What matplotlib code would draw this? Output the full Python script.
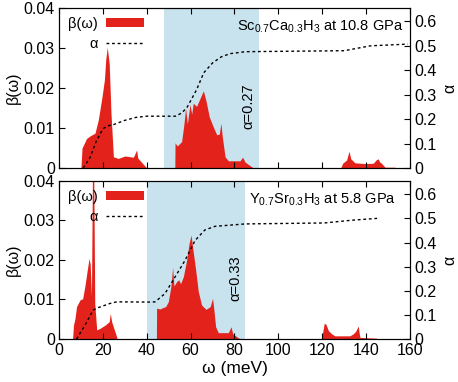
import matplotlib
matplotlib.use('Agg')
import matplotlib.pyplot as plt
import numpy as np

plt.rcParams['font.family'] = ['Liberation Sans', 'DejaVu Sans']
plt.rcParams['font.size'] = 11.5
plt.rcParams['mathtext.fontset'] = 'custom'
plt.rcParams['mathtext.rm'] = 'Liberation Sans'

# Sc0.7Ca0.3H3 at 10.8 GPa
w_top = [10.0, 10.5, 12.6, 14.1, 16.4, 17.9, 19.5, 20.7, 21.3, 22.0, 22.9, 23.7, 24.8, 27.0, 30.1, 33.9, 35.4, 35.9, 40.0,
         52.8, 52.9, 53.9, 55.9, 57.0, 57.7, 58.5, 59.7, 60.5, 61.2, 62.7, 64.3, 65.8, 67.0, 68.5, 70.3, 71.9, 73.1,
         73.8, 74.4, 75.7, 77.2, 82.5, 83.7, 84.8, 88.6,
         128.4, 129.3, 131.1, 132.2, 133.0, 134.9, 139.5, 143.3, 144.5, 145.5, 146.2, 147.0, 148.6, 153.0, 153.5]
beta_top = [0, 0.005, 0.0074, 0.008, 0.0087, 0.012, 0.0174, 0.022, 0.027, 0.0302, 0.026, 0.0137, 0.0028, 0.0024, 0.003, 0.0027, 0.0045, 0.0025, 0,
            0, 0.0063, 0.0055, 0.0066, 0.0112, 0.0149, 0.011, 0.0158, 0.0135, 0.0162, 0.0154, 0.0174, 0.0193, 0.0168, 0.0128, 0.0103, 0.0083, 0.0085,
            0.0112, 0.008, 0.0028, 0.0018, 0.0018, 0.0027, 0.0015, 0,
            0, 0.0012, 0.002, 0.0042, 0.0023, 0.0013, 0.0011, 0.0012, 0.002, 0.0023, 0.0015, 0.0012, 0.0002, 0.0002, 0]
aw_top = [11, 14, 17, 20, 22, 25, 30, 35, 40, 53, 56, 58.5, 62.7, 66, 70, 74, 78, 85, 130, 136, 142, 159]
alpha_top = [0, 0.04, 0.11, 0.16, 0.172, 0.178, 0.195, 0.207, 0.212, 0.212, 0.225, 0.25, 0.32, 0.39, 0.43, 0.455, 0.468, 0.476,
             0.48, 0.49, 0.5, 0.507]

# Y0.7Sr0.3H3 at 5.8 GPa
w_bot = [6.2, 6.6, 7.3, 8.0, 9.6, 10.8, 11.9, 12.9, 13.7, 14.2, 14.8, 15.3, 15.8, 16.3, 17.2, 18.7, 21.0, 22.9, 23.4, 24.0, 26.6,
         44.4, 44.5, 46.0, 47.6, 48.6, 49.8, 51.0, 51.8, 52.4, 53.6, 54.6, 55.4, 56.7, 58.2, 59.3, 60.2, 61.2, 62.3, 63.5,
         65.0, 67.0, 68.9, 70.0, 70.6, 71.4, 72.6, 77.2, 78.4, 79.2, 81.7, 83.0,
         119.7, 120.9, 121.7, 122.8, 124.3, 125.8, 132.6, 134.1, 135.3, 136.4, 136.9, 137.2, 144.8, 145.0]
beta_bot = [0, 0.0035, 0.0052, 0.0082, 0.0099, 0.0102, 0.0137, 0.0175, 0.0204, 0.019, 0.011, 0.045, 0.045, 0.009, 0.0023, 0.0027, 0.0035, 0.0044, 0.0065, 0.0044, 0,
            0, 0.0078, 0.0076, 0.008, 0.0082, 0.0094, 0.0132, 0.0181, 0.0134, 0.0145, 0.015, 0.014, 0.0158, 0.020, 0.0242, 0.0263, 0.022, 0.0175, 0.012,
            0.0086, 0.0075, 0.0082, 0.0103, 0.0074, 0.0031, 0.0016, 0.0016, 0.0031, 0.0013, 0.0003, 0,
            0, 0.004, 0.0037, 0.0021, 0.0013, 0.0008, 0.0008, 0.0013, 0.002, 0.0033, 0.0013, 0.0004, 0.0002, 0]
aw_bot = [8, 11.9, 15.6, 17.9, 23.2, 26.3, 41.5, 43.8, 48.3, 52.9, 57.4, 62.0, 66.5, 71.1, 84.8, 121, 133, 145]
alpha_bot = [0, 0.058, 0.12, 0.13, 0.147, 0.154, 0.153, 0.154, 0.188, 0.257, 0.325, 0.408, 0.452, 0.467, 0.477, 0.481, 0.492, 0.50]

panels = [
    dict(w=w_top, b=beta_top, aw=aw_top, a=alpha_top, span=(48, 91),
         title='Sc$_{0.7}$Ca$_{0.3}$H$_3$ at 10.8 GPa', tx=156.8, lam='α=0.27', lx=86.1),
    dict(w=w_bot, b=beta_bot, aw=aw_bot, a=alpha_bot, span=(40, 85),
         title='Y$_{0.7}$Sr$_{0.3}$H$_3$ at 5.8 GPa', tx=153.5, lam='α=0.33', lx=80.5),
]

red = '#e3231b'
shade = '#c8e2ee'

fig = plt.figure(figsize=(4.58, 3.82), dpi=100)
boxes = [[0.1288, 0.5602, 0.7664, 0.419], [0.1288, 0.1126, 0.7664, 0.4136]]

for i, (p, box) in enumerate(zip(panels, boxes)):
    ax = fig.add_axes(box)
    ax2 = ax.twinx()

    # shading and beta on the left axes, alpha curve on the twin (drawn on top)
    ax.axvspan(*p['span'], color=shade, lw=0, zorder=0)
    ax.fill_between(p['w'], 0, p['b'], color=red, lw=0, label='β(ω)', zorder=1)
    ax.plot([], [], color='black', lw=1, ls=(0, (2, 2)), label='α')
    ax2.plot(p['aw'], p['a'], color='black', lw=1, ls=(0, (2, 2)))

    ax.set_xlim(0, 160)
    ax.set_ylim(0, 0.04)
    ax2.set_ylim(0, 0.655)
    ax.set_xticks(np.arange(0, 161, 20))
    ax.set_yticks([0, 0.01, 0.02, 0.03, 0.04])
    ax.set_yticklabels(['0', '0.01', '0.02', '0.03', '0.04'])
    ax2.set_yticks([0, 0.1, 0.2, 0.3, 0.4, 0.5, 0.6])
    ax2.set_yticklabels(['0', '0.1', '0.2', '0.3', '0.4', '0.5', '0.6'])
    ax.tick_params(direction='in', top=True, length=4, pad=3)
    ax2.tick_params(direction='in', length=4, pad=3)
    ax.set_ylabel('β(ω)', labelpad=2)
    ax2.set_ylabel('α', labelpad=4)
    if i == 0:
        ax.tick_params(labelbottom=False)
    else:
        ax.set_xlabel('ω (meV)', labelpad=2, fontsize=12.5)

    ax.text(p['tx'], 0.0353, p['title'], ha='right', va='center', fontsize=10.5)
    ax.text(p['lx'], 0.0155, p['lam'], rotation=90, ha='center', va='center', fontsize=10.5)

    ax.legend(loc='upper left', frameon=False, markerfirst=False, handlelength=2.6,
              handleheight=0.6, borderaxespad=0.2, labelspacing=0.4, handletextpad=0.6,
              fontsize=10.5)

fig.savefig('out.png', dpi=100)
